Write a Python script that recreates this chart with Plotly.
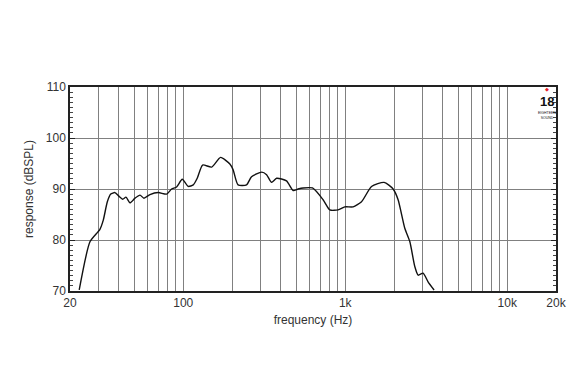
import plotly.graph_objects as go

freq_hz = [22.8, 26.6, 30.6, 32.1, 34.0, 35.7, 37.9, 40.3, 42.3, 44.3, 46.9, 50.4, 54.1, 57.2,
           62.3, 70.1, 79.0, 84.8, 91.0, 98.6, 107.4, 115.3, 122, 131.7, 149.7, 170, 194, 203,
           218, 246, 264, 305, 327, 351, 377, 434, 477, 512, 550, 628, 730, 804, 904, 994,
           1119, 1261, 1453, 1738, 1975, 2120, 2332, 2504, 2688, 2818, 3024, 3246, 3536]
spl_db = [70.2, 79.7, 82.1, 83.9, 87.5, 89.0, 89.3, 88.5, 88.0, 88.4, 87.3, 88.2, 88.8, 88.2,
          88.9, 89.3, 89.0, 90.0, 90.4, 91.9, 90.5, 90.8, 92.1, 94.7, 94.3, 96.2, 94.9, 93.8,
          90.8, 90.8, 92.4, 93.3, 92.8, 91.3, 92.1, 91.6, 89.7, 90.0, 90.2, 90.2, 87.9, 85.9,
          85.9, 86.5, 86.5, 87.5, 90.5, 91.3, 90.0, 87.9, 82.3, 79.7, 74.8, 73.1, 73.5, 71.8, 70.2]

x_tick_vals = [20, 100, 1000, 10000, 20000]
x_tick_text = ["20", "100", "1k", "10k", "20k"]
x_minor_vals = [30, 40, 50, 60, 70, 80, 90,
                200, 300, 400, 500, 600, 700, 800, 900,
                2000, 3000, 4000, 5000, 6000, 7000, 8000, 9000]
y_tick_vals = [70, 80, 90, 100, 110]

grid_col = "#808080"
text_col = "#333333"

fig = go.Figure()
fig.add_trace(go.Scatter(x=freq_hz, y=spl_db, mode="lines",
                         line=dict(color="#111111", width=1.4, shape="spline", smoothing=0.6),
                         hoverinfo="skip", showlegend=False))

fig.update_layout(
    template="none",
    width=570, height=382,
    margin=dict(l=70, r=14, t=87, b=91, autoexpand=False),
    paper_bgcolor="white", plot_bgcolor="white",
    font=dict(family="Liberation Sans, Arial, sans-serif", size=12, color=text_col),
    xaxis=dict(type="log", range=[1.30103, 4.30103], automargin=False,
               tickmode="array", tickvals=x_tick_vals, ticktext=x_tick_text,
               showgrid=True, gridcolor=grid_col, gridwidth=1,
               showline=True, linecolor="#222222", linewidth=1.5, mirror=True,
               ticks="", zeroline=False,
               minor=dict(tickmode="array", tickvals=x_minor_vals, showgrid=True,
                          gridcolor=grid_col, gridwidth=1, ticks=""),
               title=dict(text="frequency (Hz)", font=dict(size=12, color=text_col), standoff=6),
               tickfont=dict(size=12, color=text_col)),
    yaxis=dict(range=[70, 110], tickmode="array", tickvals=y_tick_vals, automargin=False,
               showgrid=True, gridcolor=grid_col, gridwidth=1,
               showline=True, linecolor="#222222", linewidth=1.5, mirror="ticks",
               ticks="inside", ticklen=5, tickcolor="#222222", zeroline=False,
               minor=dict(dtick=1, ticks="inside", ticklen=3, tickcolor="#444444", showgrid=False),
               title=dict(text="response (dBSPL)", font=dict(size=12, color=text_col), standoff=10),
               tickfont=dict(size=12, color=text_col)),
)

fig.add_annotation(xref="paper", yref="paper", x=0.981, y=0.9706, text="◆", showarrow=False,
                   font=dict(size=5, color="#e8202a"), xanchor="center", yanchor="bottom",
                   borderpad=0)
fig.add_annotation(xref="paper", yref="paper", x=0.981, y=0.9706, text="<b>18</b>", showarrow=False,
                   font=dict(size=13, color="#111111", family="Liberation Sans Narrow, Arial Narrow, sans-serif"),
                   xanchor="center", yanchor="top", borderpad=0)
fig.add_annotation(xref="paper", yref="paper", x=0.981, y=0.887, text="EIGHTEEN<br>SOUND", showarrow=False,
                   font=dict(size=3.5, color="#111111"), xanchor="center", yanchor="top",
                   borderpad=0)

fig.write_html("out.html")
